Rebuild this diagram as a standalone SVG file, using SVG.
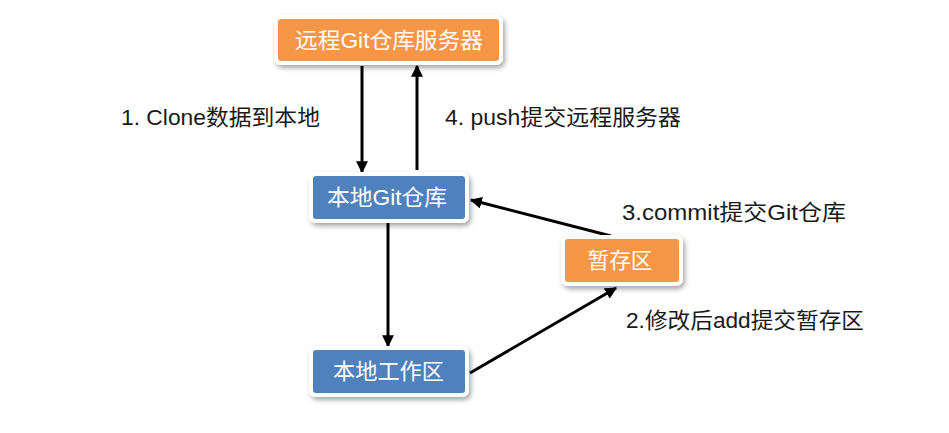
<svg xmlns="http://www.w3.org/2000/svg" width="949" height="433" viewBox="0 0 949 433">
<style>
text{font-family:"Liberation Sans","Noto Sans CJK SC",sans-serif;}
.lbl{font-size:21.5px;fill:#1a1a1a;}
.nt{font-size:22px;fill:#ffffff;text-anchor:middle;}
.box{stroke:#ffffff;stroke-width:4;filter:url(#sh);}
.org{fill:#f79646;}
.blu{fill:#4f81bd;}
.ar{stroke:#000;stroke-width:3;fill:none;marker-end:url(#ah);}
</style>
<defs>
<filter id="sh" x="-20%" y="-40%" width="140%" height="190%">
<feDropShadow dx="2" dy="3" stdDeviation="2.5" flood-color="#000" flood-opacity="0.35"/>
</filter>
<marker id="ah" viewBox="0 0 10 10" refX="9" refY="5" markerWidth="4" markerHeight="4" orient="auto" markerUnits="strokeWidth">
<path d="M0,0 L10,5 L0,10 z" fill="#000"/>
</marker>
</defs>
<rect width="949" height="433" fill="#fff"/>
<g id="connectors">
<line class="ar" x1="362" y1="66" x2="362" y2="172"/>
<line class="ar" x1="417" y1="170" x2="417" y2="66"/>
<line class="ar" x1="388" y1="223" x2="388" y2="346"/>
<line class="ar" x1="470" y1="373" x2="616" y2="288"/>
<line class="ar" x1="611" y1="236" x2="471" y2="200"/>
</g>
<g id="remote">
<rect class="box org" x="276" y="17" width="225" height="46" rx="5"/>
<text class="nt" x="389" y="48" textLength="188" lengthAdjust="spacingAndGlyphs">远程Git仓库服务器</text>
</g>
<g id="local">
<rect class="box blu" x="311" y="174" width="156" height="47" rx="5"/>
<text class="nt" x="387" y="205" textLength="120" lengthAdjust="spacingAndGlyphs">本地Git仓库</text>
</g>
<g id="work">
<rect class="box blu" x="311" y="348" width="156" height="47" rx="5"/>
<text class="nt" x="388.5" y="379" textLength="111" lengthAdjust="spacingAndGlyphs">本地工作区</text>
</g>
<g id="stage">
<rect class="box org" x="563" y="237" width="118" height="47" rx="5"/>
<text class="nt" x="620" y="268" textLength="65" lengthAdjust="spacingAndGlyphs">暂存区</text>
</g>
<g id="labels">
<text class="lbl" x="121" y="125" textLength="199" lengthAdjust="spacingAndGlyphs">1. Clone数据到本地</text>
<text class="lbl" x="445" y="125" textLength="236" lengthAdjust="spacingAndGlyphs">4. push提交远程服务器</text>
<text class="lbl" x="622" y="220" textLength="224" lengthAdjust="spacingAndGlyphs">3.commit提交Git仓库</text>
<text class="lbl" x="626" y="328" textLength="238" lengthAdjust="spacingAndGlyphs">2.修改后add提交暂存区</text>
</g>
</svg>
